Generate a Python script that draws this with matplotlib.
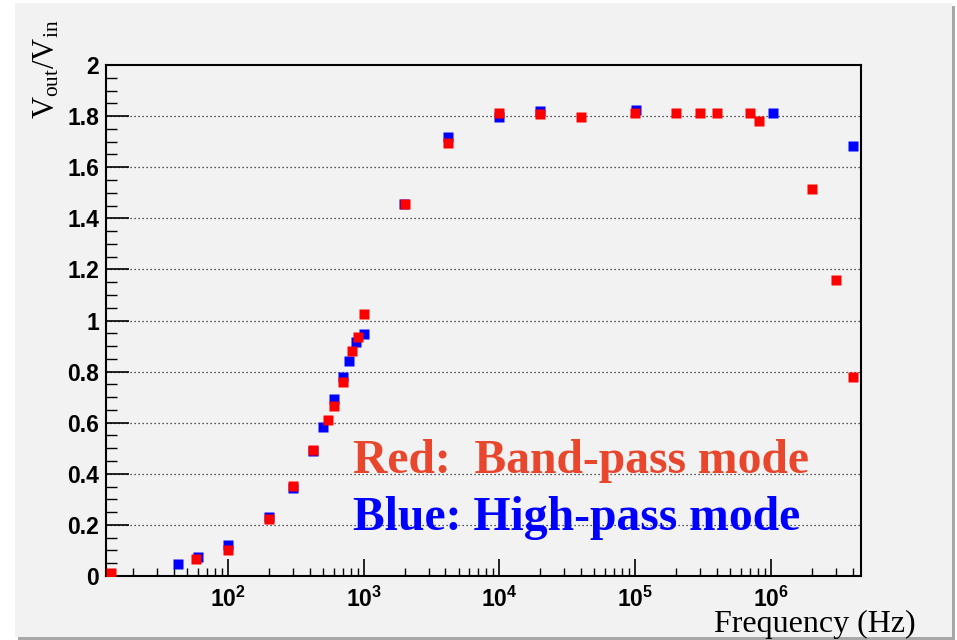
import numpy as np
import matplotlib
matplotlib.use("Agg")
import matplotlib.pyplot as plt
from matplotlib.patches import Rectangle
from matplotlib.ticker import FixedLocator, LogLocator, NullFormatter

plt.rcParams['mathtext.fontset'] = 'custom'
plt.rcParams['mathtext.rm'] = 'Liberation Serif'
plt.rcParams['mathtext.it'] = 'Liberation Serif:italic'
plt.rcParams['mathtext.bf'] = 'Liberation Sans:bold'

# ---- data ----
red_freq = [13.7, 58.5, 100, 200, 300, 420, 543, 600, 700, 817, 914, 1000, 2000,
            4170, 1.0e4, 2.0e4, 4.0e4, 1.0e5, 2.0e5, 3.0e5, 4.0e5, 7.0e5, 8.2e5,
            2.0e6, 3.0e6, 4.0e6]
red_ratio = [0.013, 0.065, 0.102, 0.224, 0.351, 0.493, 0.611, 0.665, 0.761, 0.882,
             0.937, 1.025, 1.455, 1.696, 1.811, 1.807, 1.795, 1.811, 1.811, 1.811,
             1.811, 1.811, 1.780, 1.513, 1.159, 0.778]

blue_freq = [42.7, 60, 100, 200, 300, 420, 500, 600, 700, 780, 873, 1000, 1990,
             4150, 1.0e4, 2.0e4, 1.02e5, 1.035e6, 4.0e6]
blue_ratio = [0.048, 0.076, 0.120, 0.231, 0.343, 0.488, 0.584, 0.694, 0.780, 0.840,
              0.916, 0.946, 1.455, 1.719, 1.795, 1.820, 1.824, 1.811, 1.683]

y_ticks = [0, 0.2, 0.4, 0.6, 0.8, 1, 1.2, 1.4, 1.6, 1.8, 2]
y_tick_labels = ["0", "0.2", "0.4", "0.6", "0.8", "1", "1.2", "1.4", "1.6", "1.8", "2"]
x_ticks = [1e2, 1e3, 1e4, 1e5, 1e6]
x_tick_labels = [r"$\mathbf{10^{2}}$", r"$\mathbf{10^{3}}$", r"$\mathbf{10^{4}}$",
                 r"$\mathbf{10^{5}}$", r"$\mathbf{10^{6}}$"]

W, H = 957, 640
fig = plt.figure(figsize=(W / 100, H / 100), dpi=100, facecolor='white')

# canvas panel with shadow
fig.patches.append(Rectangle((18 / W, 0), (955 - 18) / W, (640 - 6) / H,
                             transform=fig.transFigure, facecolor='#a8a8a8',
                             edgecolor='none', zorder=-10))
fig.patches.append(Rectangle((15 / W, 3 / H), (952 - 15) / W, (637 - 3) / H,
                             transform=fig.transFigure, facecolor='#f2f2f2',
                             edgecolor='none', zorder=-9))

ax = fig.add_axes([106 / W, (H - 576) / H, (861 - 106) / W, (576 - 65) / H])
ax.set_zorder(1)
ax.set_facecolor('#f2f2f2')
ax.set_xscale('log')
ax.set_xlim(10 ** 1.1013, 10 ** 6.663)
ax.set_ylim(0, 2)

for s in ax.spines.values():
    s.set_linewidth(1.5)
    s.set_color('black')

ax.yaxis.set_major_locator(FixedLocator(y_ticks))
ax.set_yticklabels(y_tick_labels)
ax.yaxis.set_minor_locator(FixedLocator(np.arange(0, 2.001, 0.05)))
ax.xaxis.set_major_locator(FixedLocator(x_ticks))
ax.set_xticklabels(x_tick_labels)
ax.xaxis.set_minor_locator(LogLocator(base=10, subs=np.arange(2, 10), numticks=20))
ax.xaxis.set_minor_formatter(NullFormatter())

ax.tick_params(axis='y', which='major', direction='in', length=16.5, width=1.2,
               labelsize=16.5, pad=5, right=False)
ax.tick_params(axis='y', which='minor', direction='in', length=8, width=1.0, right=False)
ax.tick_params(axis='x', which='major', direction='in', length=12.2, width=1.2,
               labelsize=16.5, pad=8, top=False)
ax.tick_params(axis='x', which='minor', direction='in', length=5.8, width=1.0, top=False)
for lab in ax.get_yticklabels():
    lab.set_fontfamily('Liberation Sans')
    lab.set_fontweight('bold')

for yv in y_ticks[1:-1]:
    ax.axhline(yv, color='#222222', lw=0.9, ls=(0, (1, 2.2)), zorder=1)

ms = 7.9
ax.plot(blue_freq, blue_ratio, 's', color='#0000ff', ms=ms, mec='none', zorder=3)
ax.plot(red_freq, red_ratio, 's', color='#ff0000', ms=ms, mec='none', zorder=4)

# labels
fig.text(47 / W, 1 - 20 / H, r"$\mathregular{V_{out}/V_{in}}$", rotation=90,
         ha='center', va='top', fontsize=22, family='Liberation Serif')
fig.text(916 / W, 1 - 632 / H, "Frequency (Hz)", ha='right', va='baseline',
         fontsize=23, family='Liberation Serif')

fig.text(352.7 / W, 1 - 472.7 / H, "Red:  Band-pass mode", ha='left', va='baseline',
         fontsize=34.3, family='Liberation Serif', fontweight='bold', color='#e8472d',
         zorder=5)
fig.text(352.7 / W, 1 - 530 / H, "Blue: High-pass mode", ha='left', va='baseline',
         fontsize=34.3, family='Liberation Serif', fontweight='bold', color='#0000ff',
         zorder=5)

fig.savefig('out.png', dpi=100, facecolor='white')
